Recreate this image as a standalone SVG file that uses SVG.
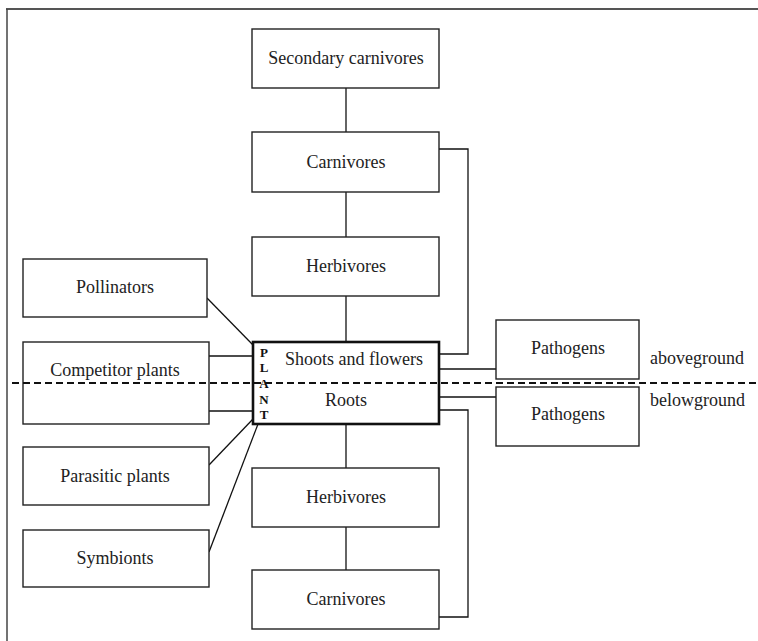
<svg xmlns="http://www.w3.org/2000/svg" width="758" height="641" viewBox="0 0 758 641">
<style>
.box{fill:#fff;stroke:#222;stroke-width:1.4}
.plant{fill:#fff;stroke:#111;stroke-width:2.6}
.t{font-family:"Liberation Serif","Times New Roman",serif;font-size:18px;fill:#222;text-anchor:middle}
.ts{font-family:"Liberation Serif","Times New Roman",serif;font-size:18px;fill:#222}
.pl{font-family:"Liberation Serif","Times New Roman",serif;font-size:13px;font-weight:bold;fill:#111;text-anchor:middle}
.c{fill:none;stroke:#111;stroke-width:1.3}
.dash{fill:none;stroke:#111;stroke-width:2;stroke-dasharray:7,4}
</style>
<rect width="758" height="641" fill="#fff"/>
<g id="frame">
<line x1="6" y1="9" x2="758" y2="9" stroke="#555" stroke-width="2"/>
<line x1="7" y1="9" x2="7" y2="641" stroke="#444" stroke-width="1.5"/>
</g>
<g id="connectors">
<line class="c" x1="346" y1="88" x2="346" y2="132"/>
<line class="c" x1="346" y1="192" x2="346" y2="237"/>
<line class="c" x1="346" y1="296" x2="346" y2="342"/>
<line class="c" x1="346" y1="424" x2="346" y2="468"/>
<line class="c" x1="346" y1="527" x2="346" y2="570"/>
<polyline class="c" points="439,149 468,149 468,354 439,354"/>
<polyline class="c" points="439,410 468,410 468,617 439,617"/>
<line class="c" x1="439" y1="369" x2="496" y2="369"/>
<line class="c" x1="439" y1="397" x2="496" y2="397"/>
<line class="c" x1="207" y1="298" x2="253" y2="345"/>
<line class="c" x1="209" y1="356" x2="252" y2="356"/>
<line class="c" x1="209" y1="411" x2="252" y2="411"/>
<line class="c" x1="209" y1="465" x2="253" y2="419"/>
<line class="c" x1="209" y1="552" x2="258" y2="424"/>
</g>
<g id="secondary-carnivores"><rect class="box" x="252" y="29" width="187" height="59"/><text class="t" x="346" y="64">Secondary carnivores</text></g>
<g id="carnivores-above"><rect class="box" x="252" y="132" width="187" height="60"/><text class="t" x="346" y="168">Carnivores</text></g>
<g id="herbivores-above"><rect class="box" x="252" y="237" width="187" height="59"/><text class="t" x="346" y="272">Herbivores</text></g>
<g id="pollinators"><rect class="box" x="23" y="259" width="184" height="58"/><text class="t" x="115" y="293">Pollinators</text></g>
<g id="competitor-plants"><rect class="box" x="23" y="342" width="186" height="82"/><text class="t" x="115" y="376">Competitor plants</text></g>
<g id="parasitic-plants"><rect class="box" x="23" y="447" width="186" height="58"/><text class="t" x="115" y="482">Parasitic plants</text></g>
<g id="symbionts"><rect class="box" x="23" y="530" width="186" height="57"/><text class="t" x="115" y="564">Symbionts</text></g>
<g id="plant"><rect class="plant" x="253" y="342" width="186" height="82"/>
<text class="t" x="354" y="365">Shoots and flowers</text>
<text class="t" x="346" y="406">Roots</text>
<text class="pl" x="264" y="357">P</text>
<text class="pl" x="264" y="372">L</text>
<text class="pl" x="264" y="388">A</text>
<text class="pl" x="264" y="404">N</text>
<text class="pl" x="264" y="419">T</text>
</g>
<g id="pathogens-above"><rect class="box" x="496" y="320" width="143" height="59"/><text class="t" x="568" y="354">Pathogens</text></g>
<g id="pathogens-below"><rect class="box" x="496" y="387" width="143" height="59"/><text class="t" x="568" y="420">Pathogens</text></g>
<g id="herbivores-below"><rect class="box" x="252" y="468" width="187" height="59"/><text class="t" x="346" y="503">Herbivores</text></g>
<g id="carnivores-below"><rect class="box" x="252" y="570" width="187" height="59"/><text class="t" x="346" y="605">Carnivores</text></g>
<g id="labels">
<text class="ts" x="650" y="364">aboveground</text>
<text class="ts" x="650" y="406">belowground</text>
</g>
<line class="dash" x1="12" y1="383" x2="758" y2="383"/>
</svg>
